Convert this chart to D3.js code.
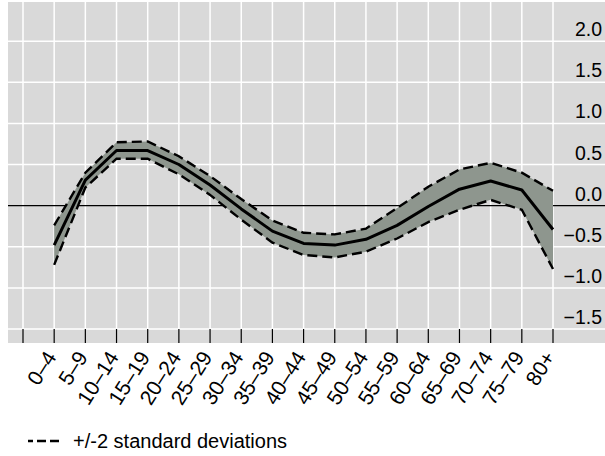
<!DOCTYPE html>
<html>
<head>
<meta charset="utf-8">
<script src="https://cdn.jsdelivr.net/npm/d3@7"></script>
<style>
  html, body { margin: 0; padding: 0; background: #ffffff; }
  svg { display: block; }
  text { font-family: "Liberation Sans", Arial, sans-serif; fill: #000; }
</style>
</head>
<body>
<svg id="chart" width="605" height="456"></svg>
<script>
// Age groups (one empty slot sits left of the first group)
const ageGroups = ["0–4", "5–9", "10–14", "15–19", "20–24", "25–29", "30–34", "35–39",
  "40–44", "45–49", "50–54", "55–59", "60–64", "65–69", "70–74", "75–79", "80+"];

// Estimated effect per age group
const estimate = [-0.48, 0.31, 0.67, 0.67, 0.50, 0.25, -0.04, -0.31,
  -0.46, -0.48, -0.41, -0.24, -0.01, 0.20, 0.30, 0.19, -0.29];

// Upper and lower bounds (+/-2 standard deviations)
const upperBound = [-0.24, 0.40, 0.77, 0.78, 0.60, 0.36, 0.08, -0.18,
  -0.33, -0.35, -0.28, -0.03, 0.23, 0.44, 0.52, 0.40, 0.18];
const lowerBound = [-0.72, 0.22, 0.57, 0.57, 0.38, 0.13, -0.17, -0.45,
  -0.60, -0.63, -0.56, -0.40, -0.20, -0.05, 0.07, -0.05, -0.77];

// Value axis ticks
const yTicks = [-1.5, -1.0, -0.5, 0.0, 0.5, 1.0, 1.5, 2.0];
const legendLabel = "+/-2 standard deviations";

const svg = d3.select("#chart");

const panel = { left: 8, top: 2, right: 605, bottom: 343 };
const plotBottom = 329;

// index -1 is the empty slot, 0..16 the age groups
const x = d3.scaleLinear().domain([-1, ageGroups.length - 1]).range([23, 553]);
const y = d3.scaleLinear().domain([-1.5, 2.5]).range([plotBottom, 0]);

const slots = d3.range(-1, ageGroups.length);

// panel background
svg.append("rect")
  .attr("x", panel.left).attr("y", panel.top)
  .attr("width", panel.right - panel.left).attr("height", panel.bottom - panel.top)
  .attr("fill", "#d9d9d9");

// grid
const grid = svg.append("g").attr("stroke", "#ffffff").attr("stroke-width", 1.5);
grid.selectAll("line.v").data(slots).join("line")
  .attr("class", "v")
  .attr("x1", d => x(d)).attr("x2", d => x(d))
  .attr("y1", panel.top).attr("y2", plotBottom);
grid.selectAll("line.h").data(yTicks.filter(v => v !== 0)).join("line")
  .attr("class", "h")
  .attr("x1", panel.left).attr("x2", panel.right)
  .attr("y1", d => y(d)).attr("y2", d => y(d));

// category ticks
svg.append("g").attr("stroke", "#000").attr("stroke-width", 1.2)
  .selectAll("line").data(slots).join("line")
  .attr("x1", d => x(d)).attr("x2", d => x(d))
  .attr("y1", plotBottom).attr("y2", panel.bottom);

// y labels, right-aligned inside the panel, just above each grid line
svg.append("g").selectAll("text").data(yTicks).join("text")
  .attr("x", 602).attr("y", d => y(d) - 5)
  .attr("text-anchor", "end")
  .attr("font-size", 19.5)
  .text(d => d3.format(".1f")(d).replace("-", "\u2212"));

// zero reference line
svg.append("line")
  .attr("x1", panel.left).attr("x2", panel.right)
  .attr("y1", y(0)).attr("y2", y(0))
  .attr("stroke", "#000").attr("stroke-width", 1.2);

const idx = d3.range(ageGroups.length);

// band between the bounds
svg.append("path")
  .datum(idx)
  .attr("fill", "#8e968e")
  .attr("d", d3.area().x(i => x(i)).y0(i => y(lowerBound[i])).y1(i => y(upperBound[i])));

const line = arr => d3.line().x(i => x(i)).y(i => y(arr[i]));

[upperBound, lowerBound].forEach(arr => {
  svg.append("path").datum(idx)
    .attr("fill", "none").attr("stroke", "#000")
    .attr("stroke-width", 2.4).attr("stroke-dasharray", "10,5")
    .attr("d", line(arr));
});

svg.append("path").datum(idx)
  .attr("fill", "none").attr("stroke", "#000")
  .attr("stroke-width", 3).attr("stroke-linejoin", "round")
  .attr("d", line(estimate));

// rotated category labels
svg.append("g").selectAll("text").data(ageGroups).join("text")
  .attr("text-anchor", "end")
  .attr("font-size", 21)
  .attr("transform", (d, i) => `translate(${x(i) + 3},${357}) rotate(-58)`)
  .text(d => d);

// legend
const legend = svg.append("g");
legend.append("line")
  .attr("x1", 59).attr("x2", 28).attr("y1", 441).attr("y2", 441)
  .attr("stroke", "#000").attr("stroke-width", 2.3).attr("stroke-dasharray", "9,4");
legend.append("text")
  .attr("x", 73).attr("y", 448)
  .attr("font-size", 20)
  .text(legendLabel);
</script>
</body>
</html>
